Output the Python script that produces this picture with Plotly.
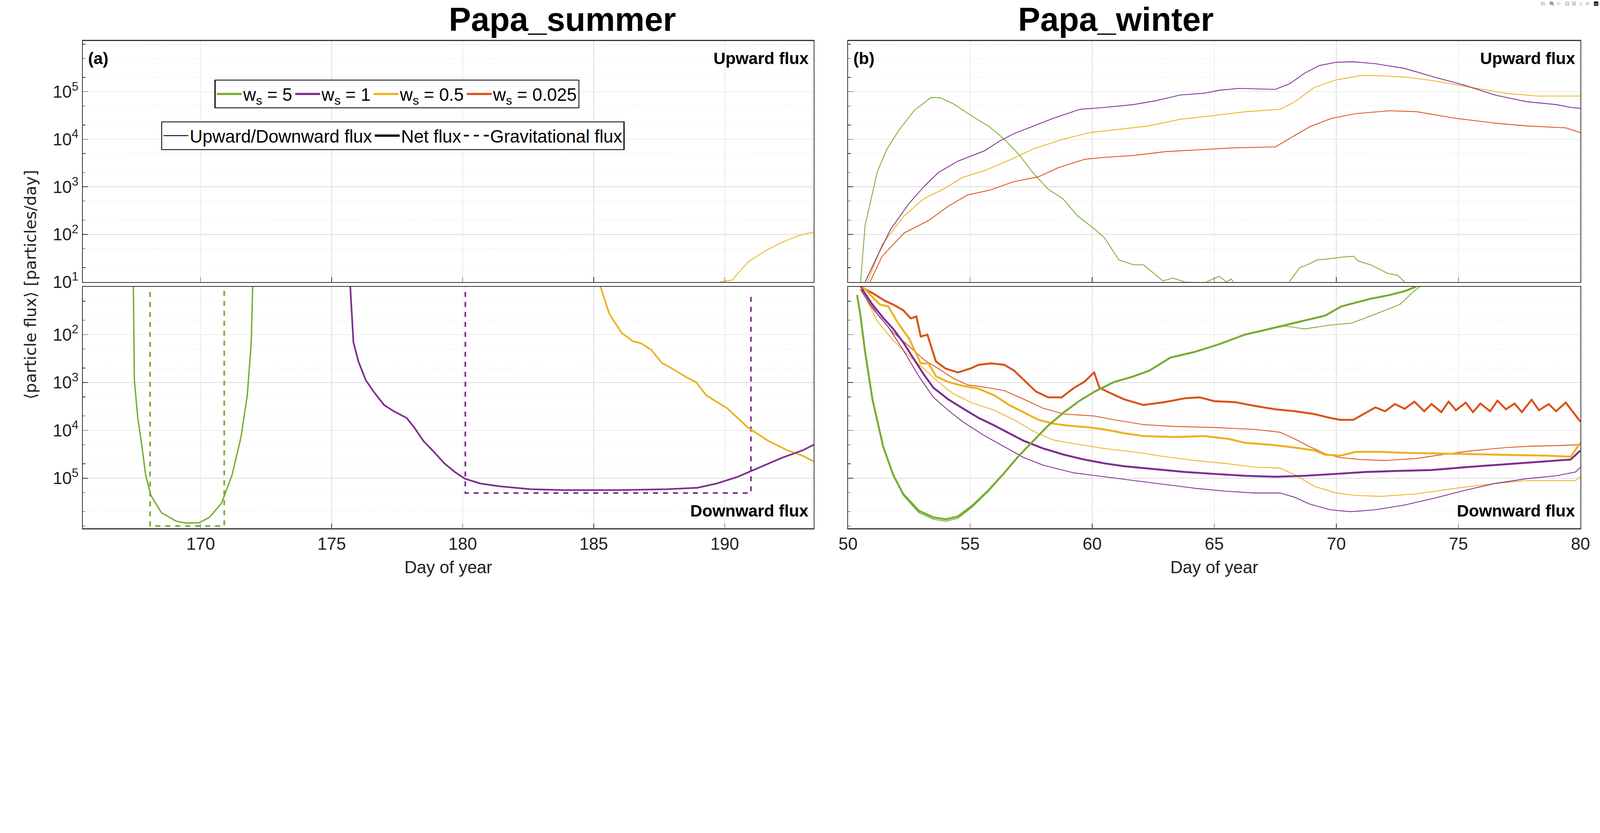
import numpy as np
import plotly.graph_objects as go
from plotly.subplots import make_subplots

GREEN = "#77AC30"
PURPLE = "#7E2F8E"
YELLOW = "#EDB120"
RED = "#D95319"

# values are log10 of the flux (particles/day)

# ---- Papa_summer, upward
sum_up_y_day = [189.8, 190.3, 190.5, 190.9, 191.5, 192.1, 192.7, 193.0, 193.4]
sum_up_y_val = [1.0, 1.04, 1.18, 1.42, 1.64, 1.81, 1.95, 2.0, 2.05]

# ---- Papa_summer, downward (net)
sum_net_g_day = [167.43, 167.47, 167.6, 167.76, 167.9, 168.1, 168.5, 169.07, 169.46, 169.94,
                 170.33, 170.8, 171.2, 171.54, 171.78, 171.93, 171.99]
sum_net_g_val = [0.9, 2.95, 3.74, 4.34, 4.93, 5.36, 5.72, 5.9, 5.94, 5.93,
                 5.82, 5.52, 4.93, 4.14, 3.27, 2.16, 0.9]
sum_net_p_day = [175.7, 175.83, 176.02, 176.3, 176.6, 177.0, 177.37, 177.86, 178.15, 178.5,
                 178.9, 179.3, 179.7, 180.08, 180.66, 181.4, 182.6, 183.9, 185.9, 187.8,
                 188.96, 189.7, 190.5, 191.27, 192.2, 192.97, 193.4]
sum_net_p_val = [0.9, 2.16, 2.56, 2.95, 3.19, 3.47, 3.6, 3.74, 3.94, 4.22,
                 4.45, 4.69, 4.87, 5.01, 5.11, 5.17, 5.23, 5.25, 5.25, 5.23,
                 5.2, 5.11, 4.97, 4.79, 4.57, 4.42, 4.3]
sum_net_y_day = [185.2, 185.6, 186.06, 186.5, 186.8, 187.2, 187.6, 188.0, 188.6, 188.9,
                 189.3, 190.1, 190.88, 191.66, 192.4, 192.97, 193.4]
sum_net_y_val = [0.9, 1.57, 1.96, 2.14, 2.18, 2.32, 2.59, 2.71, 2.91, 2.99,
                 3.27, 3.54, 3.94, 4.22, 4.42, 4.53, 4.65]

# ---- Papa_summer, gravitational flux
sum_grav_g_day = [168.07, 168.07, 170.9, 170.9]
sum_grav_g_val = [0.9, 6.0, 6.0, 0.9]
sum_grav_p_day = [180.1, 180.1, 191.0, 191.0]
sum_grav_p_val = [0.9, 5.31, 5.31, 1.19]

# ---- Papa_winter, upward
win_up_g_day = [50.5, 50.7, 51.2, 51.6, 52.1, 52.7, 53.4, 53.8, 54.3, 55.1, 55.8, 56.4, 57.0,
                57.6, 58.2, 58.8, 59.4, 60.1, 60.5, 61.1, 61.7, 62.1, 62.9, 63.3, 63.8, 64.6,
                65.2, 65.5, 65.7, 65.9, 68.0, 68.5, 68.9, 69.2, 69.6, 70.2, 70.7, 70.9, 71.4,
                71.8, 72.1, 72.5, 72.8, 73.2]
win_up_g_val = [0.9, 2.19, 3.32, 3.8, 4.2, 4.6, 4.88, 4.87, 4.75, 4.48, 4.26, 4.0, 3.68,
                3.28, 2.95, 2.75, 2.39, 2.11, 1.93, 1.46, 1.36, 1.36, 1.02, 1.08, 1.0, 0.98,
                1.12, 1.0, 1.06, 0.9, 0.95, 1.3, 1.38, 1.46, 1.48, 1.52, 1.54, 1.44, 1.36,
                1.26, 1.18, 1.14, 1.0, 0.9]
win_up_p_day = [50.7, 51.2, 51.75, 52.5, 53.1, 53.7, 54.5, 55.6, 56.2, 56.8, 57.6, 58.4, 59.5,
                60.5, 61.7, 62.6, 63.6, 64.6, 65.2, 66.0, 67.5, 68.1, 68.7, 69.3, 70.0, 70.7,
                71.6, 72.8, 74.0, 75.3, 76.5, 77.8, 79.0, 79.6, 80.0]
win_up_p_val = [1.0, 1.54, 2.11, 2.65, 3.0, 3.3, 3.54, 3.76, 3.96, 4.12, 4.28, 4.44, 4.63,
                4.67, 4.73, 4.81, 4.93, 4.97, 5.03, 5.07, 5.05, 5.17, 5.39, 5.55, 5.62, 5.63,
                5.59, 5.49, 5.31, 5.13, 4.93, 4.79, 4.73, 4.67, 4.65]
win_up_y_day = [50.8, 51.4, 52.3, 53.1, 53.9, 54.7, 55.6, 56.6, 57.6, 58.8, 59.9, 60.9, 62.3,
                63.6, 65.0, 66.3, 67.7, 68.3, 69.1, 70.0, 71.0, 71.6, 72.8, 74.0, 75.3, 76.9,
                78.2, 80.0]
win_up_y_val = [1.0, 1.79, 2.39, 2.75, 2.95, 3.2, 3.34, 3.56, 3.8, 4.0, 4.14, 4.2, 4.28,
                4.42, 4.5, 4.58, 4.63, 4.79, 5.09, 5.25, 5.34, 5.34, 5.31, 5.23, 5.11, 4.97,
                4.91, 4.91]
win_up_r_day = [50.9, 51.4, 52.3, 53.3, 54.1, 54.9, 55.8, 56.8, 57.8, 58.6, 59.7, 60.5, 61.7,
                63.0, 64.4, 65.8, 67.5, 68.3, 68.9, 69.8, 70.8, 72.2, 73.3, 74.9, 76.5, 77.8,
                79.4, 80.0]
win_up_r_val = [1.0, 1.54, 2.03, 2.29, 2.59, 2.83, 2.93, 3.11, 3.21, 3.4, 3.58, 3.62, 3.66,
                3.74, 3.78, 3.82, 3.84, 4.08, 4.26, 4.44, 4.54, 4.6, 4.58, 4.44, 4.34, 4.28,
                4.24, 4.14]

# ---- Papa_winter, downward flux (thin)
win_dn_g_day = [50.37, 50.5, 50.7, 51.0, 51.44, 51.85, 52.26, 52.9, 53.5, 54.0, 54.5, 55.1,
                55.76, 56.4, 57.0, 57.6, 58.2, 58.85, 59.46, 60.1, 60.9, 61.7, 62.35, 63.2,
                64.2, 65.2, 66.25, 67.1, 67.9, 68.7, 69.75, 70.6, 71.2, 71.8, 72.6, 73.1, 73.66]
win_dn_g_val = [1.17, 1.57, 2.36, 3.35, 4.34, 4.95, 5.36, 5.72, 5.86, 5.9, 5.84, 5.6,
                5.27, 4.9, 4.54, 4.22, 3.9, 3.62, 3.39, 3.19, 2.99, 2.87, 2.75, 2.48,
                2.36, 2.2, 2.0, 1.9, 1.82, 1.88, 1.8, 1.76, 1.65, 1.53, 1.37, 1.13, 0.9]
win_dn_p_day = [50.5, 51.0, 51.65, 52.26, 52.9, 53.5, 54.1, 54.7, 55.55, 56.4, 57.2, 58.0,
                59.26, 60.5, 61.7, 62.96, 64.2, 65.43, 66.67, 67.7, 68.3, 68.9, 69.75, 70.6,
                71.6, 72.8, 74.0, 75.3, 76.5, 77.8, 79.0, 79.8, 80.0]
win_dn_p_val = [1.05, 1.45, 1.84, 2.32, 2.87, 3.31, 3.58, 3.82, 4.1, 4.34, 4.57, 4.73,
                4.89, 4.97, 5.05, 5.13, 5.21, 5.27, 5.31, 5.31, 5.4, 5.54, 5.66, 5.7,
                5.66, 5.56, 5.42, 5.25, 5.11, 5.01, 4.95, 4.87, 4.77]
win_dn_y_day = [50.5, 51.2, 51.85, 52.5, 53.1, 53.7, 54.3, 55.1, 56.0, 56.8, 57.6, 58.4,
                59.26, 60.5, 61.7, 62.96, 64.2, 65.43, 66.67, 67.7, 68.3, 69.1, 70.0, 70.8,
                71.8, 73.25, 74.9, 76.5, 77.8, 79.0, 79.8, 80.0]
win_dn_y_val = [1.0, 1.72, 2.12, 2.44, 2.71, 2.99, 3.23, 3.43, 3.58, 3.78, 4.02, 4.2,
                4.28, 4.38, 4.45, 4.55, 4.63, 4.69, 4.77, 4.79, 4.93, 5.17, 5.31, 5.36,
                5.38, 5.33, 5.21, 5.11, 5.05, 5.05, 5.05, 4.97]
win_dn_r_day = [50.5, 51.2, 51.85, 52.5, 53.1, 53.7, 54.3, 54.9, 55.76, 56.4, 57.2, 58.0,
                58.85, 60.08, 60.9, 62.1, 63.4, 65.0, 66.67, 67.7, 68.3, 68.9, 69.55, 70.16,
                71.0, 72.0, 73.25, 74.3, 75.5, 76.95, 78.0, 79.0, 80.0]
win_dn_r_val = [1.0, 1.57, 1.96, 2.24, 2.52, 2.71, 2.91, 3.05, 3.11, 3.17, 3.35, 3.54,
                3.66, 3.7, 3.78, 3.88, 3.92, 3.94, 3.98, 4.04, 4.18, 4.34, 4.49, 4.57,
                4.61, 4.63, 4.59, 4.51, 4.43, 4.36, 4.33, 4.32, 4.3]

# ---- Papa_winter, net flux (thick)
win_net_g_day = [50.37, 50.5, 50.7, 51.0, 51.44, 51.85, 52.26, 52.9, 53.5, 54.0, 54.5, 55.1,
                 55.76, 56.4, 57.0, 57.6, 58.2, 58.85, 59.46, 60.1, 60.9, 61.7, 62.35, 63.2,
                 64.2, 65.2, 66.25, 67.1, 67.9, 68.7, 69.55, 70.2, 70.8, 71.4, 72.2, 72.8, 73.25, 73.4]
win_net_g_val = [1.17, 1.57, 2.36, 3.35, 4.34, 4.93, 5.33, 5.68, 5.82, 5.86, 5.8, 5.57,
                 5.25, 4.89, 4.53, 4.22, 3.9, 3.62, 3.39, 3.19, 2.99, 2.87, 2.75, 2.48,
                 2.36, 2.2, 2.0, 1.9, 1.8, 1.7, 1.6, 1.41, 1.33, 1.25, 1.17, 1.09, 1.0, 0.9]
win_net_p_day = [50.58, 51.0, 51.44, 51.85, 52.26, 52.67, 53.1, 53.5, 54.1, 54.7, 55.35, 56.0,
                 56.6, 57.2, 58.0, 58.85, 59.67, 60.5, 61.3, 62.55, 63.8, 65.0, 66.25, 67.5,
                 68.7, 70.0, 71.2, 72.4, 73.9, 75.3, 76.95, 78.2, 79.6, 80.0]
win_net_p_val = [1.05, 1.37, 1.65, 1.88, 2.16, 2.48, 2.83, 3.11, 3.35, 3.54, 3.74, 3.9,
                 4.06, 4.22, 4.38, 4.51, 4.61, 4.69, 4.75, 4.81, 4.87, 4.91, 4.95, 4.97,
                 4.95, 4.91, 4.87, 4.85, 4.83, 4.77, 4.71, 4.67, 4.61, 4.42]
win_net_y_day = [50.6, 51.0, 51.3, 51.65, 52.05, 52.5, 52.98, 53.3, 53.6, 54.1, 54.7, 55.35,
                 56.0, 56.6, 57.2, 57.8, 58.4, 59.0, 59.9, 60.5, 61.3, 62.1, 63.4, 64.6, 65.6,
                 66.25, 67.3, 68.3, 69.1, 69.55, 70.16, 70.8, 71.8, 72.8, 74.9, 76.95, 78.6,
                 79.6, 80.0]
win_net_y_val = [1.0, 1.21, 1.37, 1.41, 1.76, 2.08, 2.6, 2.6, 2.87, 2.99, 3.07, 3.13,
                 3.27, 3.47, 3.62, 3.78, 3.86, 3.9, 3.94, 3.98, 4.06, 4.12, 4.14, 4.12, 4.18,
                 4.26, 4.3, 4.36, 4.42, 4.51, 4.53, 4.45, 4.45, 4.47, 4.49, 4.51, 4.53,
                 4.55, 4.26]
win_net_r_day = [50.5, 51.0, 51.5, 51.85, 52.26, 52.57, 52.8, 52.98, 53.25, 53.6, 54.0, 54.5,
                 55.0, 55.35, 55.86, 56.4, 56.8, 57.2, 57.7, 58.2, 58.75, 59.26, 59.67, 60.08,
                 60.3, 60.7, 61.3, 62.1, 62.96, 63.8, 64.4, 65.0, 65.84, 66.67, 67.5, 68.3,
                 69.1, 69.75, 70.16, 70.7, 71.2, 71.6, 72.0, 72.4, 72.8, 73.2, 73.6, 73.9,
                 74.3, 74.6, 74.9, 75.3, 75.6, 75.9, 76.3, 76.6, 76.95, 77.3, 77.6, 78.0,
                 78.3, 78.7, 79.0, 79.4, 79.7, 80.0]
win_net_r_val = [1.0, 1.13, 1.29, 1.37, 1.49, 1.66, 1.62, 2.04, 2.0, 2.56, 2.71, 2.79,
                 2.71, 2.63, 2.6, 2.63, 2.75, 2.95, 3.19, 3.31, 3.31, 3.11, 2.99, 2.79,
                 3.11, 3.21, 3.35, 3.47, 3.41, 3.33, 3.31, 3.39, 3.41, 3.49, 3.56, 3.6,
                 3.66, 3.74, 3.78, 3.78, 3.64, 3.52, 3.6, 3.45, 3.55, 3.4, 3.6, 3.45,
                 3.62, 3.4, 3.58, 3.42, 3.62, 3.44, 3.6, 3.38, 3.56, 3.44, 3.62, 3.36,
                 3.58, 3.45, 3.6, 3.42, 3.62, 3.82]

FAM = "Liberation Sans, Arial, sans-serif"
AX_FONT = dict(family=FAM, size=62, color="#222")

fig = make_subplots(rows=2, cols=2)


def add(row, col, days, vals, color, width, dash="solid"):
    fig.add_trace(go.Scatter(x=days, y=10 ** np.array(vals), mode="lines",
                             line=dict(color=color, width=width, dash=dash),
                             showlegend=False), row=row, col=col)


THIN, THICK = 3, 7

# summer
add(1, 1, sum_up_y_day, sum_up_y_val, YELLOW, THIN)
add(2, 1, sum_grav_g_day, sum_grav_g_val, GREEN, 6, "dash")
add(2, 1, sum_grav_p_day, sum_grav_p_val, PURPLE, 6, "dash")
add(2, 1, sum_net_g_day, sum_net_g_val, GREEN, 5)
add(2, 1, sum_net_y_day, sum_net_y_val, YELLOW, 6)
add(2, 1, sum_net_p_day, sum_net_p_val, PURPLE, 6)

# winter
for d, v, c in [(win_up_g_day, win_up_g_val, GREEN), (win_up_r_day, win_up_r_val, RED),
                (win_up_y_day, win_up_y_val, YELLOW), (win_up_p_day, win_up_p_val, PURPLE)]:
    add(1, 2, d, v, c, THIN)
for d, v, c in [(win_dn_r_day, win_dn_r_val, RED), (win_dn_y_day, win_dn_y_val, YELLOW),
                (win_dn_p_day, win_dn_p_val, PURPLE), (win_dn_g_day, win_dn_g_val, GREEN)]:
    add(2, 2, d, v, c, THIN)
for d, v, c in [(win_net_r_day, win_net_r_val, RED), (win_net_y_day, win_net_y_val, YELLOW),
                (win_net_p_day, win_net_p_val, PURPLE), (win_net_g_day, win_net_g_val, GREEN)]:
    add(2, 2, d, v, c, THICK)

# legend entries
for name, c in [("w<sub>s</sub> = 5", GREEN), ("w<sub>s</sub> = 1", PURPLE),
                ("w<sub>s</sub> = 0.5", YELLOW), ("w<sub>s</sub> = 0.025", RED)]:
    fig.add_trace(go.Scatter(x=[None], y=[None], mode="lines", name=name,
                             line=dict(color=c, width=8), legend="legend"), row=1, col=1)
for name, w, dash in [("Upward/Downward flux", 3, "solid"), ("Net flux", 8, "solid"),
                      ("Gravitational flux", 6, "dash")]:
    fig.add_trace(go.Scatter(x=[None], y=[None], mode="lines", name=name,
                             line=dict(color="black", width=w, dash=dash), legend="legend2"),
                  row=1, col=1)

W, H = 5779, 2132
xl = [268 / W, 2940 / W]
xr = [3065 / W, 5742 / W]
yu = [1 - 1035 / H, 1 - 150 / H]
yd = [1 - 1940 / H, 1 - 1053 / H]

grid = dict(showgrid=True, gridcolor="#dcdcdc", gridwidth=2, showline=True, linecolor="#333",
            linewidth=3, mirror=True, ticks="inside", ticklen=18, tickwidth=2, tickcolor="#333",
            zeroline=False, tickfont=AX_FONT)
minor = dict(showgrid=True, gridcolor="#d8d8d8", griddash="dot", gridwidth=1,
             ticks="inside", ticklen=10, tickcolor="#333")

xcommon = dict(grid, dtick=5)
fig.update_layout(
    xaxis=dict(xcommon, domain=xl, range=[165.5, 193.4], showticklabels=False, anchor="y"),
    xaxis2=dict(xcommon, domain=xr, range=[50, 80], showticklabels=False, anchor="y2"),
    xaxis3=dict(xcommon, domain=xl, range=[165.5, 193.4], anchor="y3",
                title=dict(text="Day of year", font=AX_FONT, standoff=30)),
    xaxis4=dict(xcommon, domain=xr, range=[50, 80], anchor="y4",
                title=dict(text="Day of year", font=AX_FONT, standoff=30)),
)

up_ticks = [10, 100, 1e3, 1e4, 1e5]
up_text = ["10<sup>1</sup>", "10<sup>2</sup>", "10<sup>3</sup>", "10<sup>4</sup>", "10<sup>5</sup>"]
dn_ticks = [10, 100, 1e3, 1e4, 1e5]
dn_text = ["", "10<sup>2</sup>", "10<sup>3</sup>", "10<sup>4</sup>", "10<sup>5</sup>"]
fig.update_layout(
    yaxis=dict(grid, type="log", domain=yu, range=[1, 6.07], tickvals=up_ticks, ticktext=up_text,
               minor=minor, anchor="x"),
    yaxis2=dict(grid, type="log", domain=yu, range=[1, 6.07], tickvals=up_ticks,
                showticklabels=False, minor=minor, anchor="x2"),
    yaxis3=dict(grid, type="log", domain=yd, range=[6.05, 1], tickvals=dn_ticks, ticktext=dn_text,
                minor=minor, anchor="x3"),
    yaxis4=dict(grid, type="log", domain=yd, range=[6.05, 1], tickvals=dn_ticks,
                showticklabels=False, minor=minor, anchor="x4"),
)

LEG_FONT = dict(family=FAM, size=64, color="black")
fig.update_layout(
    width=W, height=H, plot_bgcolor="white", paper_bgcolor="white",
    margin=dict(l=0, r=0, t=0, b=0),
    legend=dict(orientation="h", x=750 / W, y=1 - 293 / H, xanchor="left", yanchor="top",
                font=LEG_FONT, bordercolor="black", borderwidth=3, bgcolor="white",
                itemwidth=90, tracegroupgap=0),
    legend2=dict(orientation="h", x=555 / W, y=1 - 446 / H, xanchor="left", yanchor="top",
                 font=LEG_FONT, bordercolor="black", borderwidth=3, bgcolor="white",
                 itemwidth=90),
)

BOLD = dict(family=FAM, size=60, color="black")
notes = [
    ("(a)", xl[0] + 0.003, 1 - 215 / H, "left"),
    ("Upward flux", xl[1] - 0.003, 1 - 215 / H, "right"),
    ("Downward flux", xl[1] - 0.003, 1 - 1875 / H, "right"),
    ("(b)", xr[0] + 0.003, 1 - 215 / H, "left"),
    ("Upward flux", xr[1] - 0.003, 1 - 215 / H, "right"),
    ("Downward flux", xr[1] - 0.003, 1 - 1875 / H, "right"),
]
for t, x, y, xa in notes:
    fig.add_annotation(text="<b>%s</b>" % t, x=x, y=y, xref="paper", yref="paper",
                       xanchor=xa, yanchor="middle", showarrow=False, font=BOLD)

TITLE = dict(family=FAM, size=120, color="black")
for t, dom in [("Papa_summer", xl), ("Papa_winter", xr)]:
    fig.add_annotation(text="<b>%s</b>" % t, x=sum(dom) / 2, y=1 - 70 / H, xref="paper",
                       yref="paper", showarrow=False, font=TITLE, yanchor="middle")

fig.add_annotation(text="⟨particle flux⟩ [particles/day]", x=40 / W, y=1 - 1045 / H,
                   xref="paper", yref="paper", textangle=-90, showarrow=False,
                   font=dict(family="DejaVu Sans, sans-serif", size=58, color="#222"))

# scale the fixed-size figure to the browser window width
fit_js = """
document.body.style.margin = '0';
document.body.style.overflow = 'hidden';
var gd = document.getElementById('{plot_id}');
var s = window.innerWidth / %d;
gd.style.transformOrigin = '0 0';
gd.style.transform = 'scale(' + s + ')';
""" % W
fig.write_html("out.html", post_script=fit_js)
